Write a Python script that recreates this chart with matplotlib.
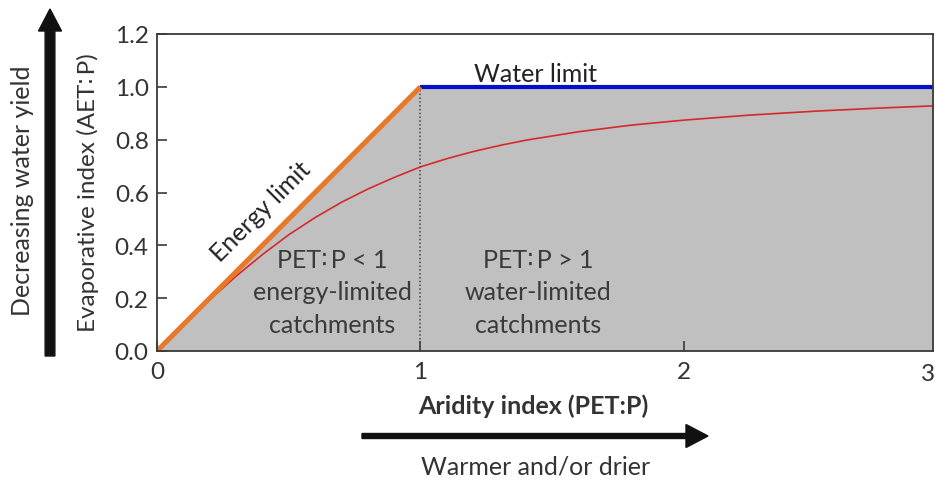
import matplotlib
matplotlib.use("Agg")
import matplotlib.pyplot as plt

plt.rcParams['font.family'] = ['Lato', 'DejaVu Sans']

# Budyko framework: limits and a typical catchment curve
energy_x = [0.0, 1.0]
energy_y = [0.0, 1.0]
water_x = [1.0, 3.0]
water_y = [1.0, 1.0]
envelope_x = [0.0, 1.0, 3.0]
envelope_y = [0.0, 1.0, 1.0]

curve_x = [0.0, 0.1, 0.2, 0.3, 0.4, 0.5, 0.6, 0.7, 0.8, 0.9, 1.0,
           1.1, 1.2, 1.3, 1.4, 1.6, 1.8, 2.0, 2.25, 2.5, 2.75, 3.0]
curve_y = [0.0, 0.1, 0.194, 0.283, 0.365, 0.44, 0.505, 0.563, 0.613, 0.657, 0.697,
           0.728, 0.755, 0.778, 0.798, 0.830, 0.855, 0.874, 0.893, 0.908, 0.92, 0.93]

x_ticks = [0, 1, 2]
x_tick_labels = ['0', '1', '2']
y_ticks = [0.0, 0.2, 0.4, 0.6, 0.8, 1.0, 1.2]
y_tick_labels = ['0.0', '0.2', '0.4', '0.6', '0.8', '1.0', '1.2']

text_col = '#333333'
spine_col = '#3a3a3a'
W, H = 935, 481

fig = plt.figure(figsize=(W / 100, H / 100), dpi=100)
ax = fig.add_axes([157 / W, 1 - 352 / H, (933 - 157) / W, (352 - 35) / H])

ax.set_xlim(0, 2.945)
ax.set_ylim(0, 1.2)

ax.fill_between(envelope_x, 0, envelope_y, color='#c0c0c0', lw=0, zorder=1)
ax.plot([1, 1], [0, 1], color='#444444', lw=1.1, ls=(0, (1, 1.5)), zorder=2)
ax.plot(curve_x, curve_y, color='#d42a2a', lw=1.2, zorder=3, solid_capstyle='butt')
ax.plot(water_x, water_y, color='#0010c8', lw=3.0, zorder=4, solid_capstyle='butt')
ax.plot(energy_x, energy_y, color='#e8782a', lw=3.6, zorder=5, solid_capstyle='butt')

for s in ax.spines.values():
    s.set_color(spine_col)
    s.set_linewidth(1.3)
    s.set_zorder(6)

ax.set_xticks(x_ticks)
ax.set_xticklabels(x_tick_labels)
ax.set_yticks(y_ticks)
ax.set_yticklabels(y_tick_labels)
ax.tick_params(axis='both', direction='in', length=7, width=1.2, color=spine_col,
               labelsize=17.5, labelcolor=text_col)
ax.tick_params(axis='x', pad=7)
ax.tick_params(axis='y', pad=6)
# final tick label sits against the right edge of the figure
fig.text(1.0, 1 - 364 / H, '3', ha='right', va='top', fontsize=17.5, color=text_col)

ratio = '\u2236\u2009'
ax.set_xlabel('Aridity index (PET:P)', fontsize=18, fontweight='bold', color=text_col)
ax.set_ylabel(f'Evaporative index (AET{ratio}P)', fontsize=17.5, color=text_col)
ax.xaxis.label.set_va('center')
ax.yaxis.label.set_va('center')
ax.xaxis.set_label_coords((533 - 157) / 776, (352 - 406) / 317)
ax.yaxis.set_label_coords((88 - 157) / 776, (352 - 193) / 317)

# annotations
ax.text(1.435, 1.022, 'Water limit', ha='center', va='baseline', fontsize=18, color='#222222')
ax.text(0.395, 0.53, 'Energy limit', ha='center', va='center', rotation=45,
        rotation_mode='anchor', fontsize=18, color='#222222')
ax.text(0.664, 0.225, f'PET{ratio}P < 1\nenergy-limited\ncatchments', ha='center',
        va='center', fontsize=18, color='#3a3a3a', linespacing=1.5)
ax.text(1.446, 0.225, f'PET{ratio}P > 1\nwater-limited\ncatchments', ha='center',
        va='center', fontsize=18, color='#3a3a3a', linespacing=1.5)

# side arrows
fig.patches.append(matplotlib.patches.FancyArrow(
    50 / W, 1 - 357 / H, 0, (357 - 10) / H, width=5 / H, head_width=23 / W,
    head_length=22 / H, length_includes_head=True, color='#111111',
    transform=fig.transFigure, figure=fig))
fig.text(23 / W, 1 - 191 / H, 'Decreasing water yield', rotation=90, ha='center',
         va='center', fontsize=18, color=text_col)

fig.patches.append(matplotlib.patches.FancyArrow(
    362 / W, 1 - 437 / H, (708 - 362) / W, 0, width=5 / H, head_width=23 / H,
    head_length=22 / W, length_includes_head=True, color='#111111',
    transform=fig.transFigure, figure=fig))
fig.text(536 / W, 1 - 467 / H, 'Warmer and/or drier', ha='center', va='center',
         fontsize=18, color=text_col)

fig.savefig('out.png', dpi=100, facecolor='white')
